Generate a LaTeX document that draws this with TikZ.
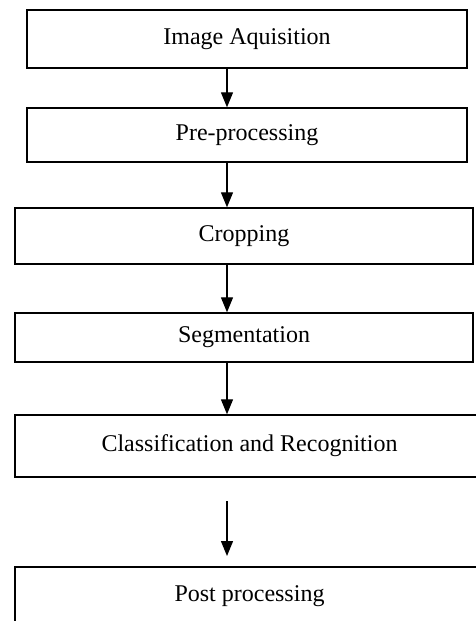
\documentclass[tikz,border=0pt]{standalone}
\usepackage{fontspec}
\setmainfont{Liberation Serif}
\usetikzlibrary{arrows.meta}

\begin{document}
\begin{tikzpicture}[x=1pt, y=-1pt,
    mybox/.style={draw, line width=1.4pt, inner sep=0pt, font=\fontsize{24}{29}\selectfont},
    myarrow/.style={line width=1.3pt, -{Triangle[length=15pt, width=12pt]}}]

        % the page, the last two boxes run over its edges
        \clip (0,0) rectangle (476,621);

        % the steps
        \node[mybox, minimum width=440pt, minimum height=58pt] (aquis) at (247,39) {Image Aquisition};
        \node[mybox, minimum width=440pt, minimum height=54pt] (prep) at (247,135) {Pre-processing};
        \node[mybox, minimum width=458pt, minimum height=56pt] (crop) at (244,236) {Cropping};
        \node[mybox, minimum width=458pt, minimum height=49pt] (segm) at (244,337.5) {Segmentation};
        \node[mybox, minimum width=469pt, minimum height=62pt] (clas) at (249.5,446) {Classification and Recognition};
        \node[mybox, minimum width=469pt, minimum height=58pt] (post) at (249.5,596) {Post processing};

        % the arrows sit left of the box centres
        \coordinate (ax) at (227,0);
        \foreach \a/\b in {aquis/prep, prep/crop, crop/segm, segm/clas}
                \draw[myarrow] (\a.south -| ax) -- (\b.north -| ax);

        % this one floats in the gap
        \coordinate (gaptop) at (227,501);
        \coordinate (gapend) at (227,556);
        \draw[myarrow] (gaptop) -- (gapend);

\end{tikzpicture}
\end{document}
